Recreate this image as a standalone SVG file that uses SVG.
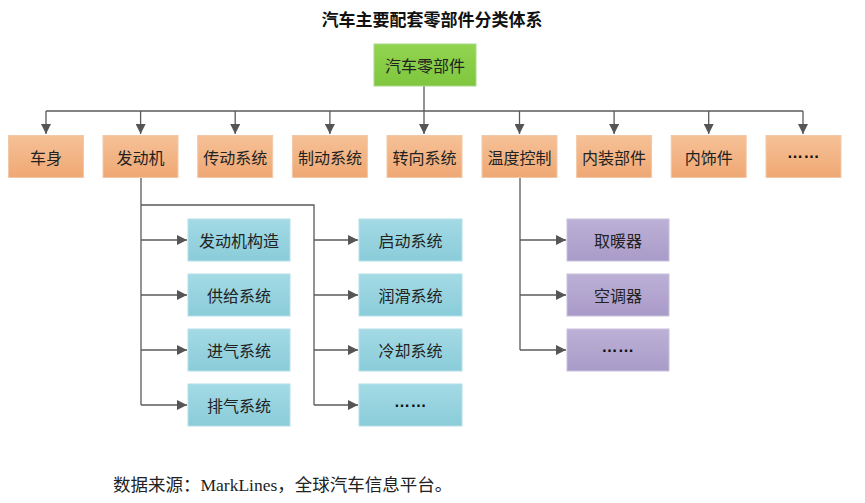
<svg xmlns="http://www.w3.org/2000/svg" width="865" height="503" viewBox="0 0 865 503">
<defs>
<linearGradient id="gGreen" x1="0" y1="0" x2="0" y2="1"><stop offset="0" stop-color="#92D450"/><stop offset="1" stop-color="#7FC63E"/></linearGradient>
<linearGradient id="gOrange" x1="0" y1="0" x2="0" y2="1"><stop offset="0" stop-color="#F6C197"/><stop offset="1" stop-color="#EFA874"/></linearGradient>
<linearGradient id="gBlue" x1="0" y1="0" x2="0" y2="1"><stop offset="0" stop-color="#A3DAE5"/><stop offset="1" stop-color="#8ACCD9"/></linearGradient>
<linearGradient id="gPurple" x1="0" y1="0" x2="0" y2="1"><stop offset="0" stop-color="#BCB0D6"/><stop offset="1" stop-color="#A99BC8"/></linearGradient>
<marker id="arr" viewBox="0 0 10 10" refX="10" refY="5" markerWidth="10" markerHeight="10" markerUnits="userSpaceOnUse" orient="auto">
<path d="M0,0 L10,5 L0,10 Z" fill="#555"/>
</marker>
</defs>
<style>
.t{font-family:"Noto Sans CJK SC","Noto Sans",sans-serif;font-size:16px;fill:#222;text-anchor:middle;dominant-baseline:central}
.d{font-family:"Liberation Sans",sans-serif;font-size:16px;font-weight:bold;fill:#111;text-anchor:middle;letter-spacing:0.5px}
.green{fill:url(#gGreen);stroke:#A9D98A;stroke-width:1}
.orange{fill:url(#gOrange);stroke:#F2C9A8;stroke-width:1}
.blue{fill:url(#gBlue);stroke:#B5E0E8;stroke-width:1}
.purple{fill:url(#gPurple);stroke:#C9C0DE;stroke-width:1}
.c{fill:none;stroke:#5A5A5A;stroke-width:1.3}
.ca{fill:none;stroke:#5A5A5A;stroke-width:1.3;marker-end:url(#arr)}
</style>
<rect width="865" height="503" fill="#FFFFFF"/>
<text x="432" y="18" class="t" style="font-size:17px;font-weight:bold;fill:#111">汽车主要配套零部件分类体系</text>

<g id="connectors">
<path class="ca" d="M424,86 V134"/>
<path class="c" d="M46,111 H803"/>
<path class="ca" d="M46,111 V134"/>
<path class="ca" d="M140.6,111 V134"/>
<path class="ca" d="M235.2,111 V134"/>
<path class="ca" d="M329.9,111 V134"/>
<path class="ca" d="M614.1,111 V134"/>
<path class="ca" d="M708.7,111 V134"/>
<path class="ca" d="M803,111 V134"/>
<path class="ca" d="M519.5,111 V134"/>
<path class="c" d="M141,177 V405"/>
<path class="c" d="M141,205 H314 V405"/>
<path class="ca" d="M141,240 H187"/>
<path class="ca" d="M141,295 H187"/>
<path class="ca" d="M141,350 H187"/>
<path class="ca" d="M141,405 H187"/>
<path class="ca" d="M314,240 H358"/>
<path class="ca" d="M314,295 H358"/>
<path class="ca" d="M314,350 H358"/>
<path class="ca" d="M314,405 H358"/>
<path class="c" d="M520,177 V350"/>
<path class="ca" d="M520,240 H566"/>
<path class="ca" d="M520,295 H566"/>
<path class="ca" d="M520,350 H566"/>
</g>

<g id="root"><rect class="green" x="374" y="44" width="102" height="42"/><text class="t" x="425" y="65">汽车零部件</text></g>

<g id="n-body"><rect class="orange" x="8.5" y="135.5" width="75" height="42"/><text class="t" x="46" y="156.5">车身</text></g>
<g id="n-engine"><rect class="orange" x="103" y="135.5" width="75" height="42"/><text class="t" x="140.6" y="156.5">发动机</text></g>
<g id="n-trans"><rect class="orange" x="197.7" y="135.5" width="75" height="42"/><text class="t" x="235.2" y="156.5">传动系统</text></g>
<g id="n-brake"><rect class="orange" x="292.4" y="135.5" width="75" height="42"/><text class="t" x="329.9" y="156.5">制动系统</text></g>
<g id="n-steer"><rect class="orange" x="387" y="135.5" width="75" height="42"/><text class="t" x="424.5" y="156.5">转向系统</text></g>
<g id="n-temp"><rect class="orange" x="482" y="135.5" width="75" height="42"/><text class="t" x="519.5" y="156.5">温度控制</text></g>
<g id="n-interior"><rect class="orange" x="576.6" y="135.5" width="75" height="42"/><text class="t" x="614.1" y="156.5">内装部件</text></g>
<g id="n-trim"><rect class="orange" x="671.2" y="135.5" width="75" height="42"/><text class="t" x="708.7" y="156.5">内饰件</text></g>
<g id="n-more"><rect class="orange" x="766" y="135.5" width="75" height="42"/><text class="d" x="803.5" y="158">……</text></g>

<g id="e-struct"><rect class="blue" x="188" y="219" width="102" height="42"/><text class="t" x="239" y="240">发动机构造</text></g>
<g id="e-supply"><rect class="blue" x="188" y="274" width="102" height="42"/><text class="t" x="239" y="295">供给系统</text></g>
<g id="e-intake"><rect class="blue" x="188" y="329" width="102" height="42"/><text class="t" x="239" y="350">进气系统</text></g>
<g id="e-exhaust"><rect class="blue" x="188" y="384" width="102" height="42"/><text class="t" x="239" y="405">排气系统</text></g>
<g id="e-start"><rect class="blue" x="359" y="219" width="103" height="42"/><text class="t" x="410.5" y="240">启动系统</text></g>
<g id="e-lube"><rect class="blue" x="359" y="274" width="103" height="42"/><text class="t" x="410.5" y="295">润滑系统</text></g>
<g id="e-cool"><rect class="blue" x="359" y="329" width="103" height="42"/><text class="t" x="410.5" y="350">冷却系统</text></g>
<g id="e-more"><rect class="blue" x="359" y="384" width="103" height="42"/><text class="d" x="410.5" y="406.5">……</text></g>

<g id="t-heat"><rect class="purple" x="567" y="219" width="102" height="42"/><text class="t" x="618" y="240">取暖器</text></g>
<g id="t-ac"><rect class="purple" x="567" y="274" width="102" height="42"/><text class="t" x="618" y="295">空调器</text></g>
<g id="t-more"><rect class="purple" x="567" y="329" width="102" height="42"/><text class="d" x="618" y="351.5">……</text></g>

<text x="113" y="485" style="font-family:'Liberation Serif','Noto Sans CJK SC',serif;font-size:17.5px;fill:#222;dominant-baseline:central">数据来源：MarkLines，全球汽车信息平台。</text>
</svg>
